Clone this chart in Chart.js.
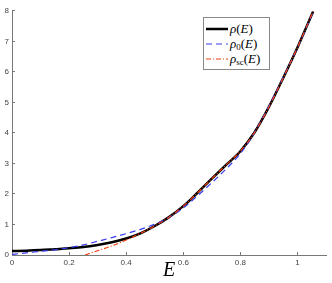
<!DOCTYPE html>
<html>
<head>
<meta charset="utf-8">
<script src="https://cdn.jsdelivr.net/npm/chart.js@4.4.1/dist/chart.umd.min.js"></script>
<style>
  html, body { margin: 0; padding: 0; background: #fff; }
  #wrap { position: relative; width: 332px; height: 283px; }
  #legend {
    position: absolute; left: 203px; top: 17px; width: 65px;
    border: 1px solid #888; background: #fff; padding: 3px 0 3px 0;
    font-family: "Liberation Serif", "DejaVu Serif", serif; font-size: 13px;
    line-height: 15px; color: #000;
  }
  #legend .row { display: flex; align-items: center; height: 15px; white-space: nowrap; }
  #legend svg { margin: 0 2px 0 2px; }
  #legend i { font-style: italic; }
  #legend sub { font-size: 9px; font-style: normal; vertical-align: -2px; line-height: 0; }
</style>
</head>
<body>
<div id="wrap">
  <canvas id="chart"></canvas>
  <div id="legend"></div>
</div>
<script>
// energies and densities
var energies = [0, 0.05, 0.1, 0.15, 0.2, 0.25, 0.3, 0.35, 0.4, 0.45, 0.5, 0.55, 0.6, 0.65, 0.7, 0.75, 0.8, 0.85, 0.9, 0.95, 1.0, 1.055];
var rho = [0.13, 0.14, 0.16, 0.19, 0.22, 0.26, 0.33, 0.42, 0.54, 0.71, 0.95, 1.24, 1.6, 2.04, 2.5, 2.95, 3.4, 4.02, 4.85, 5.8, 6.8, 7.98];
var rho0 = [0.02, 0.07, 0.12, 0.17, 0.24, 0.33, 0.45, 0.57, 0.7, 0.84, 1.01, 1.23, 1.54, 1.94, 2.37, 2.82, 3.32, 4.02, 4.88, 5.82, 6.8, 7.95];
var scEnergies = [0.256, 0.3, 0.35, 0.4, 0.45, 0.5, 0.55, 0.6, 0.65, 0.7, 0.75, 0.8, 0.85, 0.9, 0.95, 1.0, 1.055];
var rhoSc = [0, 0.14, 0.3, 0.49, 0.71, 0.95, 1.24, 1.6, 2.04, 2.5, 2.95, 3.4, 4.02, 4.85, 5.8, 6.8, 7.98];
var xTicks = [0, 0.2, 0.4, 0.6, 0.8, 1];
var yTicks = [0, 1, 2, 3, 4, 5, 6, 7, 8];

function points(xs, ys) {
    return xs.map(function(x, i) { return { x: x, y: ys[i] }; });
}

var series = [
    { label: '<i>ρ</i>(<i>E</i>)', data: points(energies, rho), color: '#000000', width: 2.5, dash: [] },
    { label: '<i>ρ</i><sub>0</sub>(<i>E</i>)', data: points(energies, rho0), color: '#3a3aee', width: 1.2, dash: [6, 4] },
    { label: '<i>ρ</i><sub>sc</sub>(<i>E</i>)', data: points(scEnergies, rhoSc), color: '#f23c0c', width: 1.2, dash: [5, 2, 1, 2] }
];

var chart = new Chart(document.getElementById('chart'), {
    type: 'line',
    data: {
        datasets: series.map(function(s) {
            return {
                label: s.label,
                data: s.data,
                borderColor: s.color,
                borderWidth: s.width,
                borderDash: s.dash,
                pointRadius: 0,
                fill: false,
                cubicInterpolationMode: 'monotone'
            };
        }).reverse()
    },
    options: {
        responsive: true,
        maintainAspectRatio: false,
        animation: false,
        layout: { padding: { top: 8, right: 6, left: 0, bottom: 0 } },
        plugins: { legend: { display: false }, tooltip: { enabled: false } },
        scales: {
            x: {
                type: 'linear', min: 0, max: 1.1,
                afterBuildTicks: function(scale) {
                    scale.ticks = xTicks.map(function(v) { return { value: v }; });
                },
                afterFit: function(scale) { scale.height = 28; },
                grid: { drawOnChartArea: false, tickLength: -3, color: '#777' },
                border: { color: '#777', width: 1 },
                ticks: {
                    padding: 6, color: '#444', maxRotation: 0,
                    font: { family: 'Liberation Sans', size: 8 },
                    callback: function(v) { return String(v); }
                },
                title: {
                    display: true, text: 'E', color: '#000',
                    font: { family: 'Liberation Serif', size: 20, style: 'italic', lineHeight: 1 },
                    padding: { top: 0, bottom: 2 }
                }
            },
            y: {
                type: 'linear', min: 0, max: 8,
                afterBuildTicks: function(scale) {
                    scale.ticks = yTicks.map(function(v) { return { value: v }; });
                },
                afterFit: function(scale) { scale.width = 12; },
                grid: { drawOnChartArea: false, tickLength: -3, color: '#777' },
                border: { color: '#777', width: 1 },
                ticks: {
                    padding: 6, color: '#444',
                    font: { family: 'Liberation Sans', size: 8 }
                }
            }
        }
    }
});

var legend = document.getElementById('legend');
series.forEach(function(s) {
    var row = document.createElement('div');
    row.className = 'row';
    row.innerHTML = '<svg width="22" height="6"><line x1="0" y1="3" x2="22" y2="3" stroke="' + s.color +
        '" stroke-width="' + s.width + '" stroke-dasharray="' + (s.dash.length ? s.dash.join(',') : 'none') +
        '"/></svg><span>' + s.label + '</span>';
    legend.appendChild(row);
});
</script>
</body>
</html>
